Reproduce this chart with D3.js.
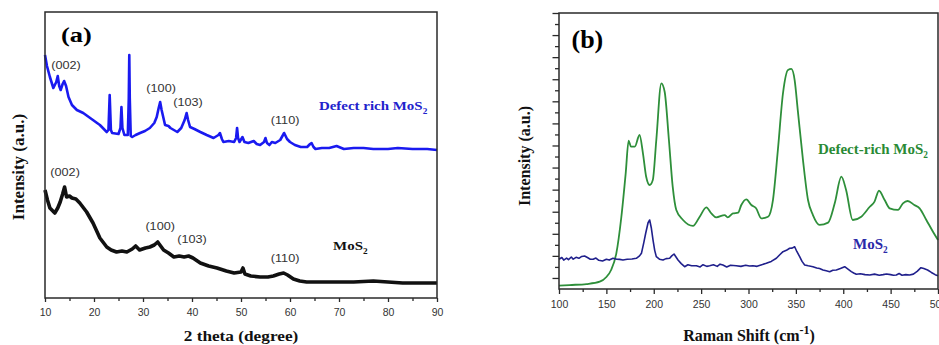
<!DOCTYPE html>
<html><head><meta charset="utf-8">
<script src="https://cdn.jsdelivr.net/npm/d3@7"></script>
<style>html,body{margin:0;padding:0;background:#fff;}svg{display:block;}</style>
</head><body>
<svg id="chart" width="939" height="345"></svg>
<script>
// ---------- DATA ----------
// Panel (a): XRD, 2theta (degree) vs intensity (a.u.)
const xrdTicks = [10,20,30,40,50,60,70,80,90];
const xrdMinorTicks = [15,25,35,45,55,65,75,85];
const defectXrd = [[10,243],[10.4,232],[11,221],[11.7,210],[12.3,216],[12.6,222],[12.9,212],[13.2,208],[13.6,214],[13.9,217],[14.3,212],[14.8,201],[15.5,193],[16.5,188],[17.8,185],[19.5,179],[21.2,173],[22.6,166],[22.95,168],[23.2,203],[23.45,168],[23.7,165],[25.0,164],[25.4,170],[25.6,191],[25.8,170],[26.2,163],[26.9,163],[27.1,200],[27.2,243],[27.3,200],[27.5,162],[27.8,161],[28.5,163],[29.4,165],[30.4,167],[31.4,170],[32.3,175],[32.8,181],[33.2,190],[33.5,196],[33.8,188],[34.5,173],[35.2,172],[35.6,170],[36.3,168],[37,166],[37.8,170],[38.5,178],[38.9,185],[39.2,178],[39.6,171],[40.5,169],[41.7,166],[43,163],[44.4,160],[45.4,163],[45.7,165],[46.1,159],[46.4,156],[47.5,157],[48.6,156],[49.0,160],[49.2,170],[49.4,160],[49.7,156],[50.3,161],[50.7,156],[51.5,155],[52.6,157],[53.2,154],[53.9,153],[54.7,156],[55,160],[55.3,155],[55.8,153],[56.3,156],[57,155],[58.0,158],[58.8,165],[59.4,159],[60,156],[61,153],[62.2,151],[63.5,151],[64.1,154],[64.4,155],[64.8,151],[65.2,149],[66.5,150],[68,150],[69.5,152],[71,149],[73,150],[75,150],[77,149],[80,149],[82,150],[85,149],[88,149],[90,148]];
const mos2Xrd = [[10,108],[10.5,98],[11,90],[12,85],[12.6,90],[13.1,96],[13.6,104],[14,111],[14.4,101],[15,102],[15.5,100],[16.3,99],[17.1,95],[18.5,86],[19.8,75],[21.2,60],[22.6,51],[23.5,48],[24.6,46],[25.7,47],[26.7,46],[27.8,49],[28.5,52],[29.3,48],[30.5,50],[31.4,51],[32.3,53],[33,56],[33.6,52],[34.2,48],[35.2,45],[36.3,41],[37.4,42],[38.4,41],[39.3,42],[40.2,40],[41.7,35],[43.4,32],[45.1,30],[47,27],[48.6,25],[50,26],[50.4,30],[50.8,24],[52,22],[53.9,21],[55.5,21],[56.6,22],[57.8,24],[58.7,25],[59.5,23],[60.7,19],[62,17],[63.4,16],[66,16],[70,16],[73,16],[77,17],[80,16],[83,15],[86,15],[90,15]];
const xrdPeakLabels = ["(002)","(100)","(103)","(110)"];
const defectPeakPos = [[14.3,229],[33.7,206],[39.2,192],[59,174]];
const mos2PeakPos = [[14.1,122],[33.5,68],[40,55],[59,36]];

// Panel (b): Raman shift (cm^-1) vs intensity (a.u.)
const ramanTicks = [100,150,200,250,300,350,400,450,500];
const ramanMinorTicks = [125,175,225,275,325,375,425,475];
const ramanYLong = [1,3,5,7,9,11,13,15,17,19,21,23,25];
const ramanYShort = [2,4,6,8,10,12,14,16,18,20,22,24];
const defectRaman = [[100,0.30],[111,0.36],[129,0.45],[143,0.66],[150,1.09],[155,1.72],[160.5,3.23],[165.8,6.52],[170.4,10.48],[173.5,13.43],[176,12.89],[180,12.89],[185,13.95],[188.6,12.29],[192,10.17],[195.7,9.42],[199,9.87],[202.7,13.5],[208,18.63],[211.5,17.87],[216,13.5],[220,9.27],[223.8,7.16],[230.9,6.25],[241.4,5.71],[248.5,6.55],[255.5,7.40],[260.8,6.85],[266,6.49],[274.8,6.70],[278,6.49],[283.6,6.85],[289,6.91],[292.4,7.61],[297.7,8.12],[303,7.61],[308,7.31],[313.5,6.40],[320.6,6.55],[325.8,8.06],[331,12.59],[336.4,17.73],[341.7,19.84],[345.2,19.93],[348.7,18.93],[352,16.21],[357.5,11.68],[362.8,8.06],[368,6.70],[375,5.80],[384,6.01],[391,7.76],[398,10.17],[403,8.97],[410,6.25],[419,6.55],[428,7.45],[433,7.91],[437.7,8.90],[443.7,8.06],[449,7.31],[457.8,7.16],[463,7.76],[468,7.97],[475,7.61],[480.6,7.31],[487.7,6.25],[494.7,5.19],[500,4.44]];
const mos2Raman = [[100,2.69],[103,2.85],[105,2.62],[108,2.8],[110,2.66],[113,2.9],[115,2.7],[118,2.87],[121,2.78],[124,2.95],[127,2.99],[130,2.85],[133,2.7],[136,2.69],[139,2.8],[142,2.6],[146,2.54],[150,2.7],[153,2.62],[157,2.78],[161,2.7],[164,2.68],[167.5,2.63],[172,2.7],[177,2.72],[181.6,2.78],[185,3.0],[187,3.23],[189.5,4.2],[191.5,5.05],[194,6.0],[195.7,6.25],[197.5,5.5],[199.2,4.44],[201,3.5],[202.7,2.93],[206,2.7],[209.8,2.63],[213,2.75],[216.8,2.78],[219,3.0],[221.4,3.17],[223.5,2.9],[225.6,2.63],[229,2.3],[232.6,2.02],[236,2.2],[240,2.1],[245,2.11],[249,2.0],[252,2.2],[256,2.05],[259,2.11],[263,2.2],[267,2.05],[270,2.25],[273,2.17],[277,2.0],[281,2.15],[287,2.11],[292,2.05],[297,2.15],[301,2.08],[304.7,2.11],[309,2.05],[314,2.2],[318.8,2.33],[324,2.5],[329.4,2.78],[333,3.1],[336.4,3.38],[340,3.5],[343.4,3.69],[346,3.7],[348.7,3.83],[351,3.4],[354,2.93],[356.5,2.5],[359.3,2.17],[363,2.1],[368,2.02],[372,1.9],[375,1.85],[378.6,1.72],[382,1.65],[385.7,1.57],[389,1.7],[392.7,1.72],[397,1.85],[401.5,2.02],[405,1.8],[408.5,1.57],[411,1.45],[413.8,1.33],[418,1.38],[423,1.3],[428,1.27],[433,1.35],[438,1.25],[442,1.3],[445.7,1.36],[450,1.3],[453,1.25],[456,1.27],[459,1.4],[462,1.25],[466,1.3],[470,1.27],[474,1.35],[478,1.6],[482,1.93],[485,1.85],[489,1.72],[493,1.5],[497,1.3],[500,1.2]];

// ---------- DRAW ----------
const svg = d3.select("#chart");
const SERIF = "'Liberation Serif','Times New Roman',serif";
const SANS = "'Liberation Sans',Arial,sans-serif";
const FRAME = "#2a2a2a";

function stext(x, y, str, o) {
  const t = svg.append("text")
    .attr("transform", `translate(${x},${y}) scale(${o.sx||1},1)`)
    .attr("font-family", o.family || SERIF)
    .attr("font-weight", o.weight || "bold")
    .attr("font-size", o.size)
    .attr("fill", o.fill || "#111")
    .attr("text-anchor", o.anchor || "start")
    .text(str);
  if (o.sub) t.append("tspan").attr("dy", o.subDy || 4).attr("font-size", o.size * 0.62).text(o.sub);
  return t;
}

// Panel (a)
const ax = d3.scaleLinear().domain([10, 90]).range([45, 437]);
const ay = d3.scaleLinear().domain([0, 286]).range([298, 12]);
const SXA = 1.15;

const lineA = d3.line().x(d => ax(d[0])).y(d => ay(d[1]));
svg.append("path").datum(defectXrd).attr("d", lineA).attr("fill", "none")
  .attr("stroke", "#1a1af0").attr("stroke-width", 2.6).attr("stroke-linejoin", "round");
svg.append("path").datum(mos2Xrd).attr("d", lineA).attr("fill", "none")
  .attr("stroke", "#111").attr("stroke-width", 3.6).attr("stroke-linejoin", "round");

const gAx = svg.append("g").attr("transform", "translate(0,298)");
gAx.call(d3.axisBottom(ax).tickValues(xrdTicks).tickSize(4).tickPadding(7).tickFormat(d3.format("d")));
gAx.append("g").call(d3.axisBottom(ax).tickValues(xrdMinorTicks).tickSize(3).tickFormat(""));
gAx.selectAll(".domain").remove();
gAx.selectAll("line").attr("stroke", FRAME).attr("stroke-width", 1.3);
gAx.selectAll("text").attr("font-family", SANS).attr("font-size", 10.5).attr("fill", "#333");

svg.append("rect").attr("x", ax(10)).attr("y", ay(286)).attr("width", ax(90) - ax(10)).attr("height", ay(0) - ay(286))
  .attr("fill", "none").attr("stroke", FRAME).attr("stroke-width", 1.5);

xrdPeakLabels.forEach((lab, i) => {
  stext(ax(defectPeakPos[i][0]), ay(defectPeakPos[i][1]), lab, {family: SANS, weight: "normal", size: 11, fill: "#333", anchor: "middle", sx: SXA});
  stext(ax(mos2PeakPos[i][0]), ay(mos2PeakPos[i][1]), lab, {family: SANS, weight: "normal", size: 11, fill: "#333", anchor: "middle", sx: SXA});
});
stext(ax(65.9), ay(188), "Defect rich MoS", {size: 13, fill: "#2222cc", sx: SXA, sub: "2"});
stext(ax(68.8), ay(48), "MoS", {size: 13, fill: "#111", sx: SXA, sub: "2"});
stext(61, 42, "(a)", {size: 22, fill: "#000", sx: 1.2});
stext(241, 341, "2 theta (degree)", {size: 15, fill: "#111", anchor: "middle", sx: SXA});
svg.append("text").attr("transform", "translate(24,167) rotate(-90)")
  .attr("font-family", SERIF).attr("font-weight", "bold").attr("font-size", 17).attr("fill", "#111")
  .attr("text-anchor", "middle").text("Intensity (a.u.)");

// Panel (b)
const bx = d3.scaleLinear().domain([100, 500]).range([559, 938]);
const by = d3.scaleLinear().domain([0, 25]).range([289, 13]);
svg.append("path").datum(defectRaman)
  .attr("d", d3.line().x(d => bx(d[0])).y(d => by(d[1])).curve(d3.curveMonotoneX)).attr("fill", "none")
  .attr("stroke", "#2e8f3a").attr("stroke-width", 1.8).attr("stroke-linejoin", "round");
svg.append("path").datum(mos2Raman)
  .attr("d", d3.line().x(d => bx(d[0])).y(d => by(d[1]))).attr("fill", "none")
  .attr("stroke", "#20208c").attr("stroke-width", 1.6).attr("stroke-linejoin", "round");

const gBx = svg.append("g").attr("transform", "translate(0,289)");
gBx.call(d3.axisBottom(bx).tickValues(ramanTicks).tickSize(5).tickPadding(7).tickFormat(d3.format("d")));
gBx.append("g").call(d3.axisBottom(bx).tickValues(ramanMinorTicks).tickSize(3).tickFormat(""));
gBx.selectAll(".domain").remove();
gBx.selectAll("line").attr("stroke", FRAME).attr("stroke-width", 1.3);
gBx.selectAll("text").attr("font-family", SANS).attr("font-size", 10.5).attr("fill", "#333");

const gBy = svg.append("g").attr("transform", "translate(559,0)");
gBy.call(d3.axisLeft(by).tickValues(ramanYLong).tickSize(6.5).tickFormat(""));
gBy.append("g").call(d3.axisLeft(by).tickValues(ramanYShort).tickSize(4).tickFormat(""));
gBy.selectAll(".domain").remove();
gBy.selectAll("line").attr("stroke", FRAME).attr("stroke-width", 1.3);

svg.append("rect").attr("x", bx(100)).attr("y", by(25)).attr("width", bx(500) - bx(100)).attr("height", by(0) - by(25))
  .attr("fill", "none").attr("stroke", FRAME).attr("stroke-width", 1.5);

stext(bx(373.3), by(12.2), "Defect-rich MoS", {size: 15, fill: "#2a8a35", sub: "2"});
stext(bx(410.3), by(3.6), "MoS", {size: 15, fill: "#2a2aa8", sub: "2"});
stext(571.5, 48, "(b)", {size: 26, fill: "#000"});
const rt = stext(749, 341, "Raman Shift (cm", {size: 16, fill: "#111", anchor: "middle"});
rt.append("tspan").attr("dy", -7).attr("font-size", 12).text("-1");
rt.append("tspan").attr("dy", 7).text(")");
svg.append("text").attr("transform", "translate(530,156) rotate(-90)")
  .attr("font-family", SERIF).attr("font-weight", "bold").attr("font-size", 16).attr("fill", "#111")
  .attr("text-anchor", "middle").text("Intensity (a.u.)");
</script>
</body></html>
